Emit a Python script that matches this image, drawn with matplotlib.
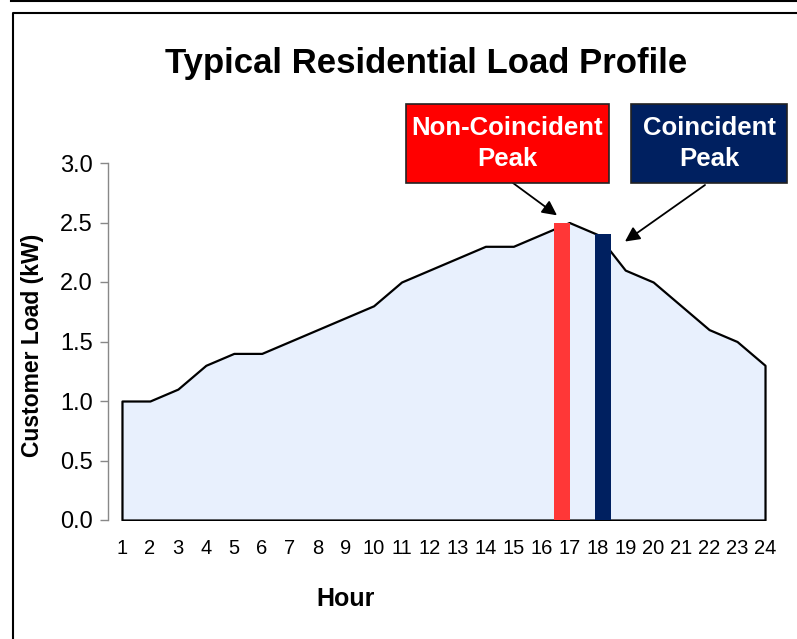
import numpy as np
import matplotlib.pyplot as plt
from matplotlib.lines import Line2D
from matplotlib.patches import Rectangle

plt.rcParams['font.family'] = ['Liberation Sans', 'DejaVu Sans']

hours = list(range(1, 25))
load_kw = [1.0, 1.0, 1.1, 1.3, 1.4, 1.4, 1.5, 1.6, 1.7, 1.8, 2.0, 2.1,
           2.2, 2.3, 2.3, 2.4, 2.5, 2.4, 2.1, 2.0, 1.8, 1.6, 1.5, 1.3]

peak_labels = ["Non-Coincident\nPeak", "Coincident\nPeak"]
peak_hours = [17, 18]
peak_values = [2.5, 2.4]

W, H = 797, 639
fig = plt.figure(figsize=(W / 100, H / 100), dpi=100)
ax = fig.add_axes([108 / W, 1 - 520 / H, 671 / W, 357 / H])

# load profile area
ax.fill_between(hours, load_kw, 0, facecolor='#e8f0fd', edgecolor='black',
                linewidth=1.6, zorder=2)

# peak bars (slightly offset as in the original sheet)
offsets = [-0.27, 0.21]
bar_colors = ['#ff3737', '#002060']
for h, v, off, c in zip(peak_hours, peak_values, offsets, bar_colors):
    ax.bar(h + off, v, width=0.57, color=c, zorder=3)

ax.set_xlim(0.5, 24.5)
ax.set_ylim(0, 3.0)
ax.set_xticks(hours)
ax.set_xticklabels([str(h) for h in hours])
ax.set_yticks(np.arange(0, 3.01, 0.5))
ax.set_yticklabels([f"{t:.1f}" for t in np.arange(0, 3.01, 0.5)])
ax.tick_params(axis='x', length=0, pad=14, labelsize=14.5)
ax.tick_params(axis='y', length=6, width=1, color='#888888', pad=5, labelsize=17)
for s in ['top', 'right', 'bottom']:
    ax.spines[s].set_visible(False)
ax.spines['left'].set_color('#888888')
ax.spines['left'].set_linewidth(1)

# annotation boxes
boxes = [(406, 104, 609, 183, '#ff0000'), (631, 104, 787, 183, '#002060')]
for (x0, y0, x1, y1, c), lab in zip(boxes, peak_labels):
    fig.patches.append(Rectangle((x0 / W, 1 - y1 / H), (x1 - x0) / W, (y1 - y0) / H,
                                 transform=fig.transFigure, facecolor=c,
                                 edgecolor='#222222', linewidth=1.2))
    fig.text((x0 + x1) / 2 / W, 1 - (y0 + y1) / 2 / H, lab, color='white',
             fontsize=18.5, fontweight='bold', ha='center', va='center',
             linespacing=1.35)

# arrows
arrow_tips = [(16.56, 2.56), (18.99, 2.34)]
arrow_tails = [(513, H - 183), (705, H - 185)]
for tip, tail in zip(arrow_tips, arrow_tails):
    ax.annotate('', xy=tip, xycoords='data', xytext=tail, textcoords='figure pixels',
                arrowprops=dict(arrowstyle='-|>', mutation_scale=22, color='black',
                                lw=1.3, shrinkA=0, shrinkB=0), annotation_clip=False)

fig.text(426 / W, 1 - 63 / H, "Typical Residential Load Profile", fontsize=25,
         fontweight='bold', ha='center', va='center')
fig.text(33 / W, 1 - 345 / H, "Customer Load (kW)", fontsize=16.5,
         fontweight='bold', rotation=90, ha='center', va='center')
fig.text(346 / W, 1 - 599 / H, "Hour", fontsize=18, fontweight='bold',
         ha='center', va='center')

# outer frame lines
fig.add_artist(Line2D([11 / W, 1], [1 - 0.8 / H, 1 - 0.8 / H], color='black', lw=1.5,
                      transform=fig.transFigure))
fig.add_artist(Line2D([12.5 / W, 12.5 / W, 1], [0, 1 - 12.5 / H, 1 - 12.5 / H],
                      color='black', lw=1.5, transform=fig.transFigure))

fig.savefig("out.png", dpi=100)
